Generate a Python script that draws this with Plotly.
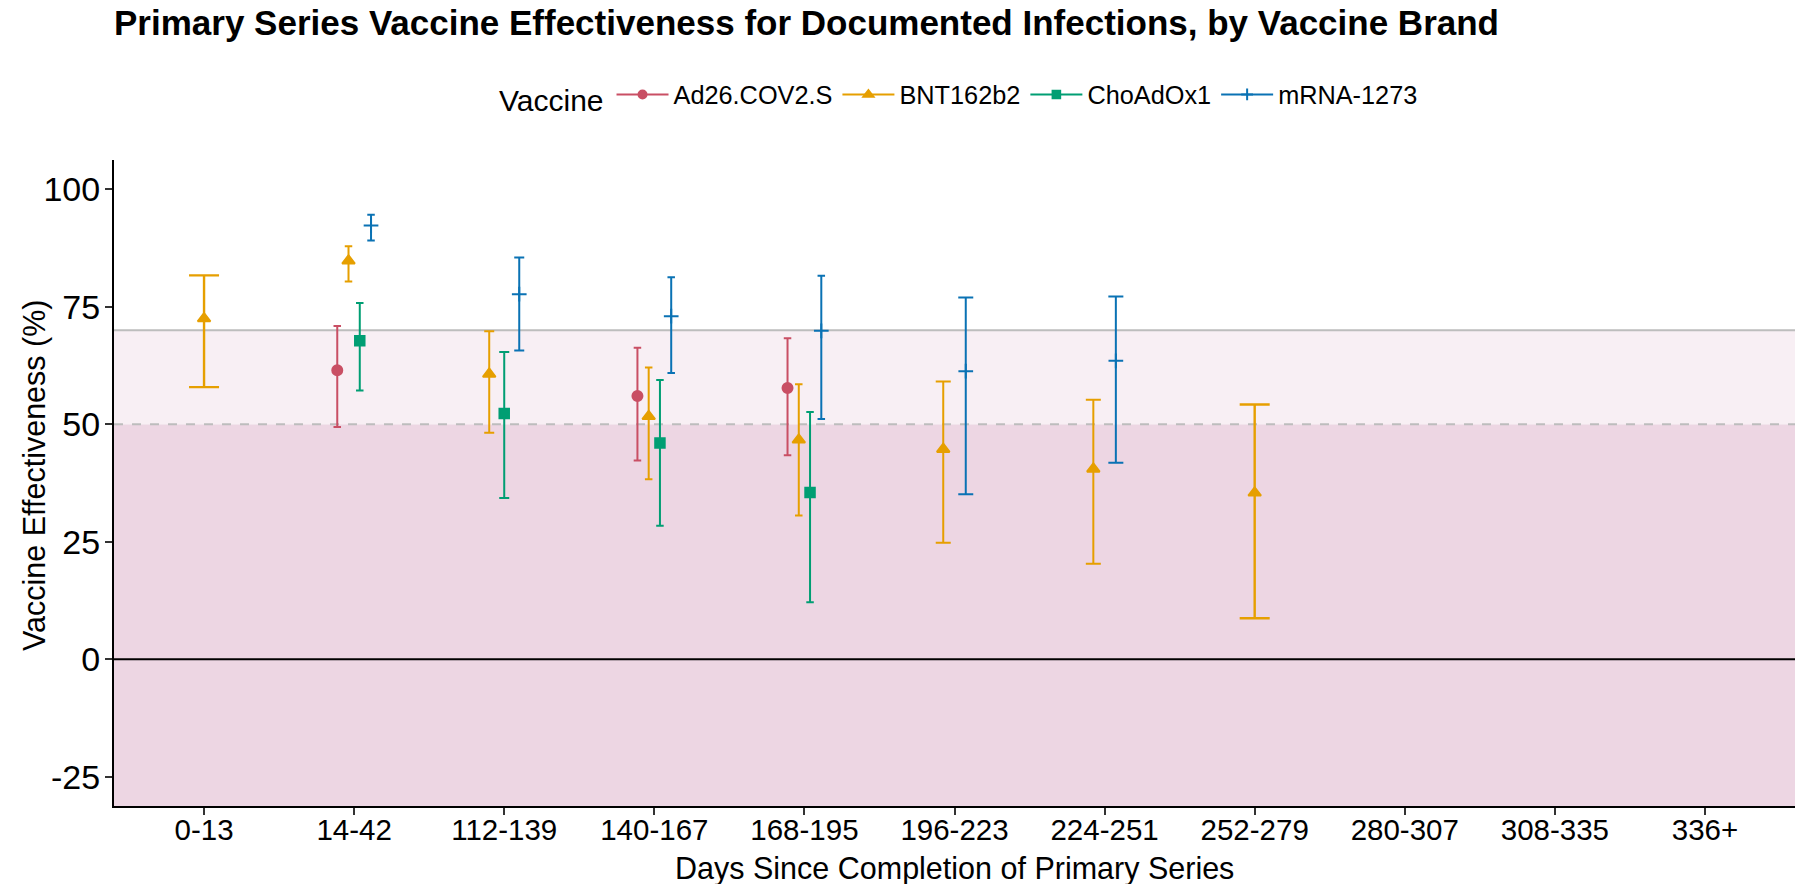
import plotly.graph_objects as go

# ---------------- data ----------------
categories = ["0-13", "14-42", "112-139", "140-167", "168-195", "196-223",
              "224-251", "252-279", "280-307", "308-335", "336+"]

vaccines = ["Ad26.COV2.S", "BNT162b2", "ChoAdOx1", "mRNA-1273"]

ad26_est = [None, 61.5, None, 56.0, 57.7, None, None, None, None, None, None]
ad26_lo  = [None, 49.4, None, 42.3, 43.4, None, None, None, None, None, None]
ad26_hi  = [None, 70.9, None, 66.3, 68.3, None, None, None, None, None, None]

bnt_est = [72.5, 84.8, 60.7, 51.7, 46.7, 44.7, 40.5, 35.4, None, None, None]
bnt_lo  = [57.9, 80.4, 48.2, 38.3, 30.6, 24.8, 20.3, 8.7, None, None, None]
bnt_hi  = [81.7, 87.9, 69.8, 62.1, 58.5, 59.1, 55.2, 54.2, None, None, None]

cho_est = [None, 67.8, 52.3, 46.0, 35.5, None, None, None, None, None, None]
cho_lo  = [None, 57.2, 34.3, 28.4, 12.1, None, None, None, None, None, None]
cho_hi  = [None, 75.8, 65.4, 59.4, 52.6, None, None, None, None, None, None]

mrna_est = [None, 92.3, 77.7, 73.0, 69.9, 61.3, 63.5, None, None, None, None]
mrna_lo  = [None, 89.1, 65.7, 60.9, 51.1, 35.1, 41.8, None, None, None, None]
mrna_hi  = [None, 94.6, 85.5, 81.3, 81.6, 77.0, 77.2, None, None, None, None]

y_ticks = [-25, 0, 25, 50, 75, 100]
y_tick_labels = ["-25", "0", "25", "50", "75", "100"]
y_limits = [-25, 100]
ref_high = 70
ref_low = 50

title_text = "Primary Series Vaccine Effectiveness for Documented Infections, by Vaccine Brand"
x_title = "Days Since Completion of Primary Series"
y_title = "Vaccine Effectiveness (%)"

# ---------------- styles ----------------
colors = {"Ad26.COV2.S": "#C94F64", "BNT162b2": "#E69F00",
          "ChoAdOx1": "#009E73", "mRNA-1273": "#0A72B4"}
symbols = {"Ad26.COV2.S": "circle", "BNT162b2": "triangle-up",
           "ChoAdOx1": "square", "mRNA-1273": "cross-thin"}
msize = {"Ad26.COV2.S": 10, "BNT162b2": 11, "ChoAdOx1": 9.5, "mRNA-1273": 10.5}

series = {
    "Ad26.COV2.S": (ad26_est, ad26_lo, ad26_hi),
    "BNT162b2": (bnt_est, bnt_lo, bnt_hi),
    "ChoAdOx1": (cho_est, cho_lo, cho_hi),
    "mRNA-1273": (mrna_est, mrna_lo, mrna_hi),
}

W, H = 1799, 884
ML, MR, MT, MB = 114, 4, 160, 78
PW, PH = W - ML - MR, H - MT - MB
dodge_w = 0.3
bar_w = 0.2
x_range = [0.4, len(categories) + 0.6]
span_y = y_limits[1] - y_limits[0]
y_range = [y_limits[0] - 0.05 * span_y, y_limits[1] + 0.05 * span_y]
px_per_unit = PW / (x_range[1] - x_range[0])

present = [[v for v in vaccines if series[v][0][i] is not None]
           for i in range(len(categories))]

fig = go.Figure()

for v in vaccines:
    est, lo, hi = series[v]
    groups = {}
    for i in range(len(categories)):
        if est[i] is None:
            continue
        n = len(present[i])
        rank = present[i].index(v)
        off = -dodge_w / 2 + dodge_w / n * (rank + 0.5)
        g = groups.setdefault(n, {"x": [], "y": [], "up": [], "dn": []})
        g["x"].append(i + 1 + off)
        g["y"].append(est[i])
        g["up"].append(hi[i] - est[i])
        g["dn"].append(est[i] - lo[i])
    for n, g in sorted(groups.items()):
        fig.add_trace(go.Scatter(
            x=g["x"], y=g["y"], mode="markers", showlegend=False,
            marker=dict(symbol=symbols[v], size=msize[v], color=colors[v],
                        line=dict(color=colors[v], width=2)),
            error_y=dict(type="data", symmetric=False, array=g["up"],
                         arrayminus=g["dn"], color=colors[v],
                         thickness=2.4 if n == 1 else 2,
                         width=bar_w / n / 2 * px_per_unit),
            name=v, legendgroup=v, hoverinfo="skip"))
    fig.add_trace(go.Scatter(
        x=[None], y=[None], mode="lines+markers", name=v, legendgroup=v,
        line=dict(color=colors[v], width=2),
        marker=dict(symbol=symbols[v], size=msize[v] * 0.8, color=colors[v],
                    line=dict(color=colors[v], width=2))))

shapes = [
    dict(type="rect", xref="paper", yref="y", x0=0, x1=1, y0=y_range[0], y1=ref_low,
         fillcolor="#EDD6E3", line=dict(width=0), layer="below"),
    dict(type="rect", xref="paper", yref="y", x0=0, x1=1, y0=ref_low, y1=ref_high,
         fillcolor="#F8EFF4", line=dict(width=0), layer="below"),
    dict(type="line", xref="paper", yref="y", x0=0, x1=1, y0=ref_high, y1=ref_high,
         line=dict(color="#BDBDBD", width=2), layer="below"),
    dict(type="line", xref="paper", yref="y", x0=0, x1=1, y0=ref_low, y1=ref_low,
         line=dict(color="#BDBDBD", width=2, dash="dash"), layer="below"),
    dict(type="line", xref="paper", yref="y", x0=0, x1=1, y0=0, y1=0,
         line=dict(color="black", width=2), layer="below"),
]

annotations = [
    dict(text=x_title, xref="paper", yref="paper", x=0.5, y=(PH - (868.5 - MT)) / PH,
         xanchor="center", yanchor="middle", showarrow=False,
         font=dict(size=30.5, color="black")),
    dict(text=y_title, xref="paper", yref="paper", x=(34 - ML) / PW,
         y=(PH - (476 - MT)) / PH, xanchor="center", yanchor="middle",
         textangle=-90, showarrow=False, font=dict(size=30.5, color="black")),
]

fig.update_layout(
    width=W, height=H,
    margin=dict(l=ML, r=MR, t=MT, b=MB, autoexpand=False),
    paper_bgcolor="white", plot_bgcolor="white",
    font=dict(family="Liberation Sans, Arial, sans-serif", color="black"),
    title=dict(text="<b>" + title_text + "</b>",
               font=dict(size=35, color="black"),
               x=0, xref="paper", xanchor="left",
               y=1 - 23 / H, yref="container", yanchor="middle"),
    legend=dict(orientation="h", x=(497 - ML) / PW, xanchor="left",
                y=1 + (MT - 96) / PH, yanchor="middle",
                title=dict(text="Vaccine", font=dict(size=30)),
                font=dict(size=25.3), itemwidth=52, bgcolor="rgba(0,0,0,0)"),
    shapes=shapes,
    annotations=annotations,
    xaxis=dict(range=x_range, tickmode="array",
               tickvals=list(range(1, len(categories) + 1)), ticktext=categories,
               showgrid=False, zeroline=False, showline=True, linecolor="black",
               linewidth=2, ticks="outside", ticklen=7, tickwidth=1.5,
               tickcolor="#333333", tickfont=dict(size=29.5, color="black"),
               ticklabelstandoff=-10, automargin=False),
    yaxis=dict(range=y_range, tickmode="array", tickvals=y_ticks,
               ticktext=y_tick_labels,
               showgrid=False, zeroline=False, showline=True, linecolor="black",
               linewidth=2, ticks="outside", ticklen=7, tickwidth=1.5,
               tickcolor="#333333", tickfont=dict(size=34, color="black"),
               ticklabelstandoff=-2, automargin=False),
)

fig.write_html("out.html", config={"displayModeBar": False},
               post_script="document.body.style.margin='0px';document.body.style.overflow='hidden';")
